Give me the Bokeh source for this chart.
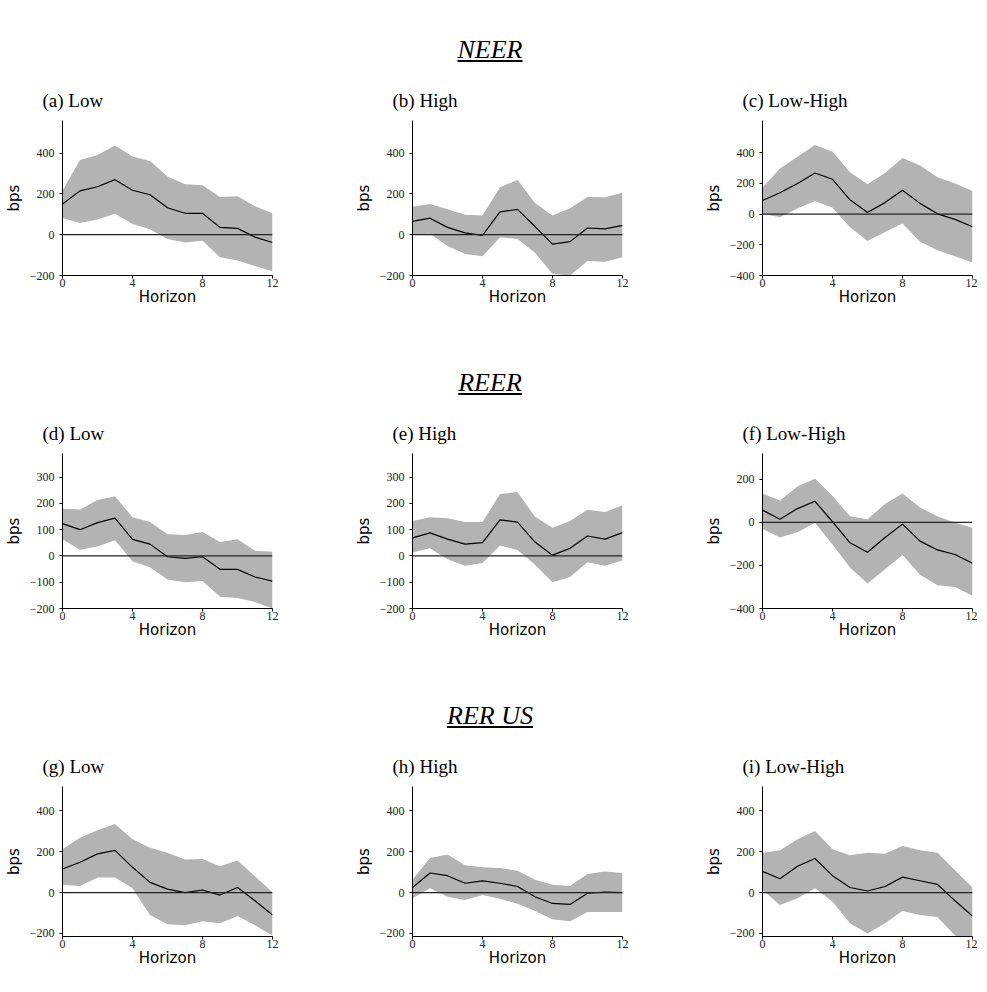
from bokeh.embed import file_html
from bokeh.layouts import column, row
from bokeh.models import ColumnDataSource, Div, FixedTicker, Span
from bokeh.plotting import figure
from bokeh.resources import INLINE

horizon = list(range(13))

sections = ["NEER", "REER", "RER US"]
letters = ["a", "b", "c", "d", "e", "f", "g", "h", "i"]
groups = ["Low", "High", "Low-High"]

# impulse responses (bps) with upper / lower confidence bands
irf = {
    "a": [151, 215, 235, 270, 218, 196, 132, 105, 105, 36, 31, -12, -38],
    "b": [65, 81, 36, 9, -3, 112, 124, 40, -46, -34, 33, 29, 46],
    "c": [89, 139, 200, 268, 227, 93, 11, 75, 155, 70, 2, -34, -82],
    "d": [123, 100, 127, 144, 63, 45, -3, -9, -3, -51, -51, -80, -96],
    "e": [69, 88, 64, 45, 51, 137, 129, 53, 3, 29, 76, 64, 89],
    "f": [57, 15, 64, 98, 3, -95, -139, -70, -8, -87, -128, -149, -190],
    "g": [116, 149, 190, 207, 124, 50, 17, 0, 13, -12, 25, -40, -110],
    "h": [25, 96, 83, 46, 58, 46, 30, -20, -53, -58, -3, 2, 0],
    "i": [104, 68, 129, 167, 83, 25, 8, 30, 76, 58, 40, -40, -115],
}
upper = {
    "a": [215, 366, 391, 438, 383, 362, 285, 247, 242, 185, 189, 139, 105],
    "b": [137, 151, 125, 98, 94, 233, 268, 155, 94, 130, 185, 184, 206],
    "c": [173, 298, 373, 450, 407, 273, 195, 268, 366, 316, 241, 200, 150],
    "d": [180, 177, 213, 227, 147, 129, 83, 80, 91, 53, 64, 20, 16],
    "e": [133, 147, 144, 129, 129, 236, 243, 149, 107, 133, 176, 167, 193],
    "f": [134, 102, 167, 203, 123, 28, 15, 85, 134, 69, 28, -2, -25],
    "g": [212, 269, 306, 336, 261, 220, 195, 162, 165, 129, 157, 80, 0],
    "h": [63, 170, 187, 134, 124, 121, 107, 63, 38, 33, 91, 104, 96],
    "i": [195, 208, 261, 302, 212, 183, 195, 190, 228, 208, 195, 110, 25],
}
lower = {
    "a": [82, 57, 74, 103, 52, 27, -21, -38, -29, -110, -127, -153, -179],
    "b": [2, 5, -55, -94, -106, -12, -21, -89, -192, -200, -129, -132, -110],
    "c": [2, -20, 36, 86, 41, -86, -175, -116, -61, -180, -236, -275, -316],
    "d": [64, 24, 36, 60, -20, -43, -90, -100, -95, -155, -160, -175, -200],
    "e": [13, 29, -13, -37, -27, 40, 23, -33, -100, -80, -24, -37, -17],
    "f": [-30, -70, -46, -2, -103, -210, -284, -218, -152, -243, -292, -300, -341],
    "g": [38, 33, 74, 74, 21, -110, -155, -160, -140, -150, -115, -160, -210],
    "h": [-28, 21, -20, -36, -12, -30, -55, -90, -130, -140, -95, -95, -95],
    "i": [13, -61, -28, 21, -45, -150, -200, -150, -90, -110, -120, -210, -250],
}
y_ranges = {
    "a": (-200, 560), "b": (-200, 560), "c": (-400, 610),
    "d": (-200, 390), "e": (-200, 390), "f": (-400, 320),
    "g": (-215, 520), "h": (-215, 520), "i": (-215, 520),
}
y_ticks = {
    "a": [-200, 0, 200, 400], "b": [-200, 0, 200, 400], "c": [-400, -200, 0, 200, 400],
    "d": [-200, -100, 0, 100, 200, 300], "e": [-200, -100, 0, 100, 200, 300],
    "f": [-400, -200, 0, 200],
    "g": [-200, 0, 200, 400], "h": [-200, 0, 200, 400], "i": [-200, 0, 200, 400],
}

SERIF = "Liberation Serif"


def panel(key, group, width, height, right):
    p = figure(width=width, height=height, output_backend="svg", toolbar_location=None,
               x_range=(0, 12), y_range=y_ranges[key],
               min_border_left=62, min_border_right=right, min_border_top=8,
               min_border_bottom=height - 198)
    p.title.text = "(%s) %s" % (key, group)
    p.title.text_font = SERIF
    p.title.text_font_style = "normal"
    p.title.text_font_size = "19px"
    p.title.text_color = "black"
    p.title.offset = -20
    p.title.standoff = 20
    p.outline_line_color = None
    p.grid.visible = False
    src = ColumnDataSource(dict(h=horizon, m=irf[key], up=upper[key], lo=lower[key]))
    p.varea(x="h", y1="lo", y2="up", source=src, fill_color="#b3b3b3")
    p.add_layout(Span(location=0, dimension="width", line_color="#222222", line_width=1.3))
    p.line(x="h", y="m", source=src, line_color="black", line_width=1.2)
    p.xaxis.ticker = FixedTicker(ticks=[0, 4, 8, 12])
    p.yaxis.ticker = FixedTicker(ticks=y_ticks[key])
    p.xaxis.axis_label = "Horizon"
    p.yaxis.axis_label = "bps"
    for ax in (p.xaxis[0], p.yaxis[0]):
        ax.minor_tick_line_color = None
        ax.major_tick_in = 0
        ax.major_tick_out = 3
        ax.major_label_text_font = "Liberation Sans Narrow"
        ax.major_label_text_font_size = "12px"
        ax.major_label_text_color = "#222222"
        ax.axis_label_text_font = "DejaVu Sans"
        ax.axis_label_text_font_size = "15px"
        ax.axis_label_text_font_style = "normal"
        ax.axis_label_text_color = "black"
        ax.axis_line_color = "black"
    p.xaxis.axis_label_standoff = -2
    p.xaxis.major_label_standoff = 0
    p.yaxis.axis_label_standoff = 4
    return p


blocks = []
for s, name in enumerate(sections):
    div = Div(text='<div style="font-family:\'Liberation Serif\';font-style:italic;'
                   'font-size:26px;text-align:center;width:970px;padding-top:26px">'
                   '<u>%s</u></div>' % name, width=970, height=67)
    h = 256 if s < 2 else 226
    figs = []
    for j in range(3):
        key = letters[3 * s + j]
        w = 350 if j < 2 else 277
        figs.append(panel(key, groups[j], w, h, 78 if j < 2 else 5))
    blocks.append(div)
    blocks.append(row(*figs, spacing=0))

layout = column(*blocks, spacing=0)
open("out.html", "w").write(file_html(layout, INLINE))
